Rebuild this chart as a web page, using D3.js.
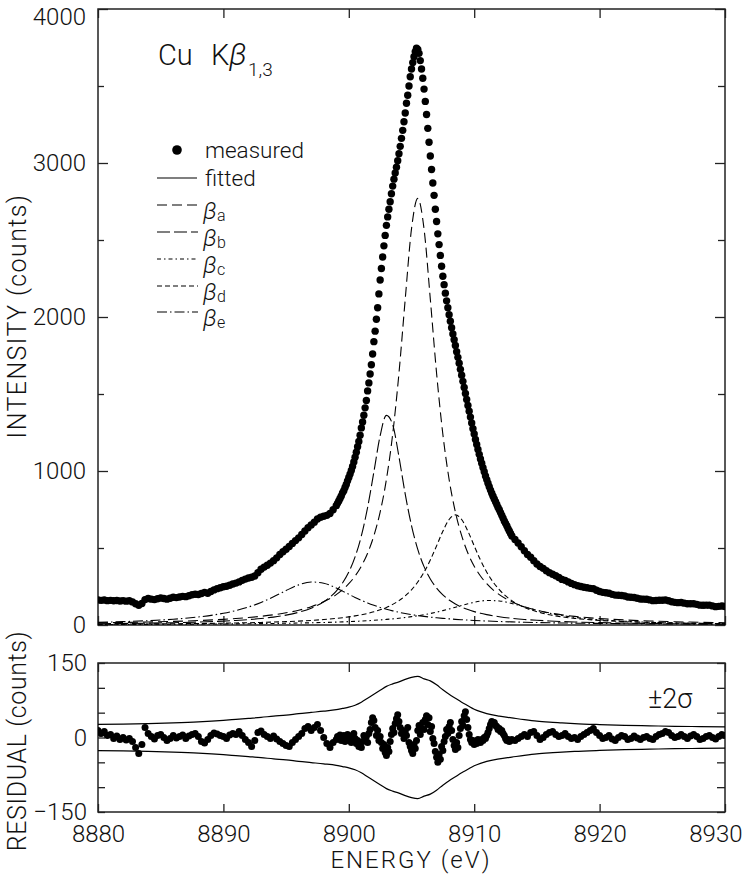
<!DOCTYPE html>
<html><head><meta charset="utf-8">
<script src="https://cdn.jsdelivr.net/npm/d3@7"></script>
<style>
html,body{margin:0;padding:0;background:#fff;}
svg{display:block;font-family:Roboto,"Liberation Sans",sans-serif;font-weight:300;}
</style></head><body>
<svg id="chart" width="744" height="882"></svg>
<script>
// ---------- DATA ----------
const energyTicks = [8880, 8890, 8900, 8910, 8920, 8930];
const intensityTicks = [0, 1000, 2000, 3000, 4000];
const intensityMinorTicks = [500, 1500, 2500, 3500];
const residualTicks = [-150, 0, 150];
const residualMinorTicks = [-100, -50, 50, 100];

// measured energies: 0.25 eV steps in tails, 0.1 eV across the peak
const measuredE = [
  ...d3.range(0, 77).map(i => 8880 + i * 0.25),
  ...d3.range(1, 141).map(i => +(8899 + i * 0.1).toFixed(2)),
  ...d3.range(1, 69).map(i => 8913 + i * 0.25)
];
const measured = [
  163,160,162,158,160,157,159,156,158,155,157,150,138,128,140,165,172,168,165,170,
  175,172,168,174,180,178,182,186,184,190,196,200,198,205,212,206,218,228,236,242,
  248,252,258,266,272,280,290,298,305,310,318,340,362,376,388,402,418,436,458,476,
  492,510,530,548,566,588,610,632,650,668,688,700,706,712,724,748,775,
  790,805,822,838,858,872,893,912,936,958,
  980,1004,1030,1058,1090,1122,1158,1192,1232,1280,
  1318,1362,1410,1458,1520,1572,1630,1690,1760,1840,
  1908,1985,2060,2150,2240,2315,2390,2462,2530,2595,
  2650,2700,2748,2800,2850,2895,2935,2972,3015,3060,
  3108,3160,3212,3268,3325,3388,3440,3500,3560,3610,
  3652,3690,3722,3745,3738,3712,3665,3610,3550,3480,
  3400,3315,3225,3135,3045,2958,2870,2790,2700,2620,
  2540,2470,2400,2330,2265,2210,2155,2105,2060,2015,
  1972,1930,1890,1852,1815,1775,1738,1700,1660,1622,
  1582,1542,1503,1465,1425,1388,1350,1312,1275,1240,
  1205,1172,1140,1108,1078,1050,1022,995,968,944,
  920,898,876,856,836,818,800,782,764,748,
  730,712,694,676,660,644,626,610,594,578,
  555,532,508,482,458,440,418,396,380,368,352,340,330,320,308,296,290,280,270,262,
  255,250,245,242,238,236,226,218,212,209,206,199,194,193,192,188,182,180,179,174,
  169,168,167,163,158,159,161,161,162,157,151,147,145,146,142,138,138,138,134,129,
  128,129,129,124,119,121,123,120
];
const residual = [
  14,8,12,4,6,-2,3,-4,0,-5,-2,-8,-20,-32,-14,20,8,2,-3,4,
  6,0,-6,-2,4,-1,2,5,-2,3,6,8,2,-8,-11,-4,4,9,7,4,
  2,-2,5,8,6,12,4,-4,-10,-18,-6,10,13,6,2,-2,3,-3,-8,-12,
  -16,-18,-10,-4,2,8,18,22,14,20,26,14,0,-12,-20,-10,-4,
  2,-3,5,-6,0,4,-8,-2,6,-4,
  3,-10,-4,8,-2,-12,-6,-18,-14,-20,
  -8,4,-6,2,-10,8,16,30,40,34,
  20,4,14,-6,2,-10,-22,-14,-30,-36,
  -20,-28,-8,6,18,10,28,38,46,32,
  20,8,14,-2,12,4,20,-10,-18,-26,
  -32,-14,-22,-6,14,24,6,18,30,16,
  36,44,26,40,12,22,-2,-12,-28,-40,
  -50,-34,-44,-18,-26,-8,2,16,8,22,
  30,14,-4,-16,-24,-10,-20,4,18,32,
  24,44,52,36,20,6,-4,-10,-6,-14,
  -8,-12,-4,-8,-10,-4,-6,0,-2,4,
  10,18,26,32,28,30,24,22,16,18,
  12,14,8,4,-2,-6,-4,-8,-6,-4,
  -6,-2,2,6,2,10,12,4,-4,0,6,10,12,6,2,4,8,2,-2,0,
  -4,2,6,10,14,18,10,4,-2,0,4,-3,-6,0,4,2,-4,-2,3,-1,
  -4,0,2,-2,-4,2,6,8,12,10,4,0,2,6,2,-2,3,6,2,-4,
  -2,2,4,0,-3,2,6,4
];

// fitted component energies
const compE = [8880,8882,8884,8886,8888,8890,8891,8892,8893,8894,8895,8896,8897,8898,8899,
  8899.5,8900,8900.5,8901,8901.5,8902,8902.5,8903,8903.5,8904,8904.5,8905,8905.5,8906,8906.5,
  8907,8907.5,8908,8908.5,8909,8909.5,8910,8910.5,8911,
  8912,8913,8914,8915,8916,8917,8918,8920,8922,8924,8926,8928,8930];
const betaA = [13.7,16.2,19.3,23.4,29.0,36.8,42.0,48.4,56.3,66.3,79.1,95.9,118.9,150.9,197.3,
  228.7,267.9,317.7,382.1,466.3,579.5,732.8,945.4,1239,1635,2116,2572,2770,2572,2116,1635,1239,945,733,580,466,382,318,268,
  197,151,119,96,79,66,56,42,32.6,26.0,21.2,17.6,14.9];
const betaB = [8.2,9.9,12.0,15.0,19.1,25.3,29.5,35.0,42.0,51.3,64.2,82.4,109.4,151.2,220.5,
  273,344,442,578,763,994,1229,1361,1301,1092,850,646,491,379,299,240,196,162,136.5,116,100,87,76,67.4,
  53.7,43.7,36.2,30.5,26.1,22.5,19.6,15.3,12.3,10.1,8.4,7.1,6.1];
const betaC = [3.2,3.7,4.2,4.9,5.8,6.8,7.5,8.2,9.1,10.1,11.3,12.7,14.4,16.4,18.9,
  20.3,21.9,23.7,25.6,27.9,30.4,33.2,36.4,40,44.1,48.8,54.1,60.2,67,74.8,83.6,93.4,104,115.4,126.9,137.9,147.7,155,159.3,
  156.2,140,117.6,95.5,76.5,61.4,49.7,33.8,24.1,17.9,13.7,10.8,8.8];
const betaD = [5.0,5.8,6.8,8.0,9.7,11.8,13.2,14.8,16.7,19.1,21.9,25.4,29.8,35.5,42.9,
  47.5,52.8,59.1,66.4,75.2,85.7,98.6,114.4,133.9,158.2,189.2,228.6,279,343,422,514,609,685,715,685,609,514,422,343,
  229,158,114,86,66,53,43,30,22,16.7,13.2,10.7,8.8];
const betaE = [17.2,21.7,28.0,37.4,52.1,76.1,93.8,116.8,146.5,183.1,224,260.6,279.4,271,239.9,
  220,199.3,179.2,160.4,143.2,127.9,114.2,102.3,91.8,82.6,74.6,67.6,61.4,56,51.2,47,43.2,39.9,36.8,34.2,31.8,29.6,27.6,25.8,
  22.8,20.1,18.0,16.1,14.5,13.2,12.0,10.1,8.5,7.3,6.4,5.6,4.9];
const twoSigma = [26.5,27,28,29.5,31.5,34.5,36.5,38.5,40.5,43,45,48,50.5,53,56,
  58.5,61,65,71,79,87,95,103,108,112,117,121,123,118,114,106,96,87,79,71,64,57,52,48,
  43,39.5,36,33,31,29.5,28,26,24.5,23.5,22.5,22,21.5];

const components = [
  {key: "a", values: betaA, dash: "10,5"},
  {key: "b", values: betaB, dash: "13,4"},
  {key: "c", values: betaC, dash: "4,3,1.5,3"},
  {key: "d", values: betaD, dash: "5,3"},
  {key: "e", values: betaE, dash: "10,3,1.5,3"}
];

// ---------- DRAW ----------
const svg = d3.select("#chart");
const FONT = 'Roboto,"Liberation Sans",sans-serif';
const X0 = 98, X1 = 725;
const x = d3.scaleLinear().domain([8880, 8930]).range([X0, X1]);
const yI = d3.scaleLinear().domain([0, 4000]).range([625, 9]);
const yR = d3.scaleLinear().domain([-150, 150]).range([812, 663]);

const defs = svg.append("defs");
defs.append("clipPath").attr("id", "clipTop")
  .append("rect").attr("x", X0).attr("y", 9).attr("width", X1 - X0).attr("height", 616);
defs.append("clipPath").attr("id", "clipBot")
  .append("rect").attr("x", X0).attr("y", 663).attr("width", X1 - X0).attr("height", 149);

function styleAxis(g, size) {
  g.select(".domain").remove();
  g.selectAll(".tick line").attr("stroke", "#222").attr("stroke-width", 1.3);
  g.selectAll("text").attr("font-size", size).attr("font-family", FONT)
    .attr("font-weight", 300).attr("fill", "#111");
}

// ---- top panel axes ----
const yl = svg.append("g").attr("transform", `translate(${X0},0)`)
  .call(d3.axisLeft(yI).tickValues(intensityTicks).tickSize(-10).tickPadding(12).tickFormat(d3.format("d")))
  .call(g => styleAxis(g, 24));
// keep the top label inside the canvas
yl.selectAll(".tick text").filter(d => d === 4000).attr("dy", "0.64em");
svg.append("g").attr("transform", `translate(${X0},0)`)
  .call(d3.axisLeft(yI).tickValues(intensityMinorTicks).tickSize(-6).tickFormat(""))
  .call(g => styleAxis(g, 24));
svg.append("g").attr("transform", `translate(${X1},0)`)
  .call(d3.axisRight(yI).tickValues(intensityTicks).tickSize(-10).tickFormat(""))
  .call(g => styleAxis(g, 24));
svg.append("g").attr("transform", `translate(${X1},0)`)
  .call(d3.axisRight(yI).tickValues(intensityMinorTicks).tickSize(-7).tickFormat(""))
  .call(g => styleAxis(g, 24));
svg.append("g").attr("transform", `translate(0,9)`)
  .call(d3.axisTop(x).tickValues(energyTicks).tickSize(-9).tickFormat(""))
  .call(g => styleAxis(g, 24));
svg.append("g").attr("transform", `translate(0,625)`)
  .call(d3.axisBottom(x).tickValues(energyTicks).tickSize(-9).tickFormat(""))
  .call(g => styleAxis(g, 24));

// ---- bottom panel axes ----
const resAll = residualTicks.concat(residualMinorTicks).sort((a, b) => a - b);
const fmtR = d3.format("d");
svg.append("g").attr("transform", `translate(${X0},0)`)
  .call(d3.axisLeft(yR).tickValues(resAll).tickSize(-7).tickPadding(11)
    .tickFormat(d => residualTicks.includes(d) ? fmtR(d) : ""))
  .call(g => styleAxis(g, 24));
svg.append("g").attr("transform", `translate(${X1},0)`)
  .call(d3.axisRight(yR).tickValues(resAll).tickSize(-8).tickFormat(""))
  .call(g => styleAxis(g, 24));
svg.append("g").attr("transform", `translate(0,663)`)
  .call(d3.axisTop(x).tickValues(energyTicks).tickSize(-9).tickFormat(""))
  .call(g => styleAxis(g, 24));
const xb = svg.append("g").attr("transform", `translate(0,812)`)
  .call(d3.axisBottom(x).tickValues(energyTicks).tickSize(-8).tickPadding(13).tickFormat(d3.format("d")))
  .call(g => styleAxis(g, 24));
xb.selectAll(".tick text").each(function(d) {
  const w = this.getComputedTextLength();
  const cx = x(d);
  if (cx + w / 2 > 742) d3.select(this).attr("x", 742 - w / 2 - cx);
});

// frames
svg.append("rect").attr("x", X0).attr("y", 9).attr("width", X1 - X0).attr("height", 616)
  .attr("fill", "none").attr("stroke", "#222").attr("stroke-width", 1.5);
svg.append("rect").attr("x", X0).attr("y", 663).attr("width", X1 - X0).attr("height", 149)
  .attr("fill", "none").attr("stroke", "#222").attr("stroke-width", 1.5);

// ---- components ----
const gTop = svg.append("g").attr("clip-path", "url(#clipTop)");
components.forEach(c => {
  const line = d3.line().x((d, i) => x(compE[i])).y(d => yI(d)).curve(d3.curveMonotoneX);
  gTop.append("path").datum(c.values).attr("d", line)
    .attr("fill", "none").attr("stroke", "#000").attr("stroke-width", 1.1)
    .attr("stroke-dasharray", c.dash);
});
// ---- measured dots ----
gTop.selectAll("circle.m").data(measured).join("circle").attr("class", "m")
  .attr("cx", (d, i) => x(measuredE[i])).attr("cy", d => yI(d)).attr("r", 3.7).attr("fill", "#000");

// ---- residual panel ----
const gBot = svg.append("g").attr("clip-path", "url(#clipBot)");
const sigUp = d3.line().x((d, i) => x(compE[i])).y(d => yR(d)).curve(d3.curveMonotoneX);
const sigDn = d3.line().x((d, i) => x(compE[i])).y(d => yR(-d)).curve(d3.curveMonotoneX);
gBot.append("path").datum(twoSigma).attr("d", sigUp).attr("fill", "none").attr("stroke", "#000").attr("stroke-width", 1.2);
gBot.append("path").datum(twoSigma).attr("d", sigDn).attr("fill", "none").attr("stroke", "#000").attr("stroke-width", 1.2);
gBot.selectAll("circle.r").data(residual).join("circle").attr("class", "r")
  .attr("cx", (d, i) => x(measuredE[i])).attr("cy", d => yR(d)).attr("r", 3.5).attr("fill", "#000");

// ---- texts ----
function txt(s, xx, yy, size, opts = {}) {
  const t = svg.append("text").attr("x", xx).attr("y", yy).attr("font-size", size)
    .attr("font-family", FONT).attr("font-weight", 300).attr("fill", "#111").text(s);
  if (opts.anchor) t.attr("text-anchor", opts.anchor);
  if (opts.rotate) t.attr("transform", `rotate(-90,${xx},${yy})`);
  if (opts.italic) t.attr("font-style", "italic");
  if (opts.ls) t.attr("letter-spacing", opts.ls);
  return t;
}
// title
txt("Cu", 158, 65, 29);
txt("K", 211, 65, 29);
txt("β", 229, 65, 31, {italic: true});
txt("1,3", 248, 76, 19);

// legend
svg.append("circle").attr("cx", 177).attr("cy", 150).attr("r", 4.8).attr("fill", "#000");
txt("measured", 205, 158, 22.5);
svg.append("line").attr("x1", 157).attr("x2", 197).attr("y1", 178).attr("y2", 178)
  .attr("stroke", "#000").attr("stroke-width", 1.1);
txt("fitted", 205, 186, 22.5);
const legendY = [205, 232, 259, 286, 312];
components.forEach((c, i) => {
  const ly = legendY[i];
  svg.append("line").attr("x1", 157).attr("x2", 198).attr("y1", ly).attr("y2", ly)
    .attr("stroke", "#000").attr("stroke-width", 1.1).attr("stroke-dasharray", c.dash);
  txt("β", 203, ly + 14, 24, {italic: true});
  txt(c.key, 217, ly + 16, 16);
});

// axis titles
txt("INTENSITY  (counts)", 26, 316, 25, {anchor: "middle", rotate: true, ls: "1.4px"});
txt("RESIDUAL  (counts)", 26, 741, 25, {anchor: "middle", rotate: true, ls: "0.6px"});
txt("ENERGY  (eV)", 411, 868, 24, {anchor: "middle", ls: "2px"});
txt("±2σ", 648, 708, 27);
</script>
</body></html>
